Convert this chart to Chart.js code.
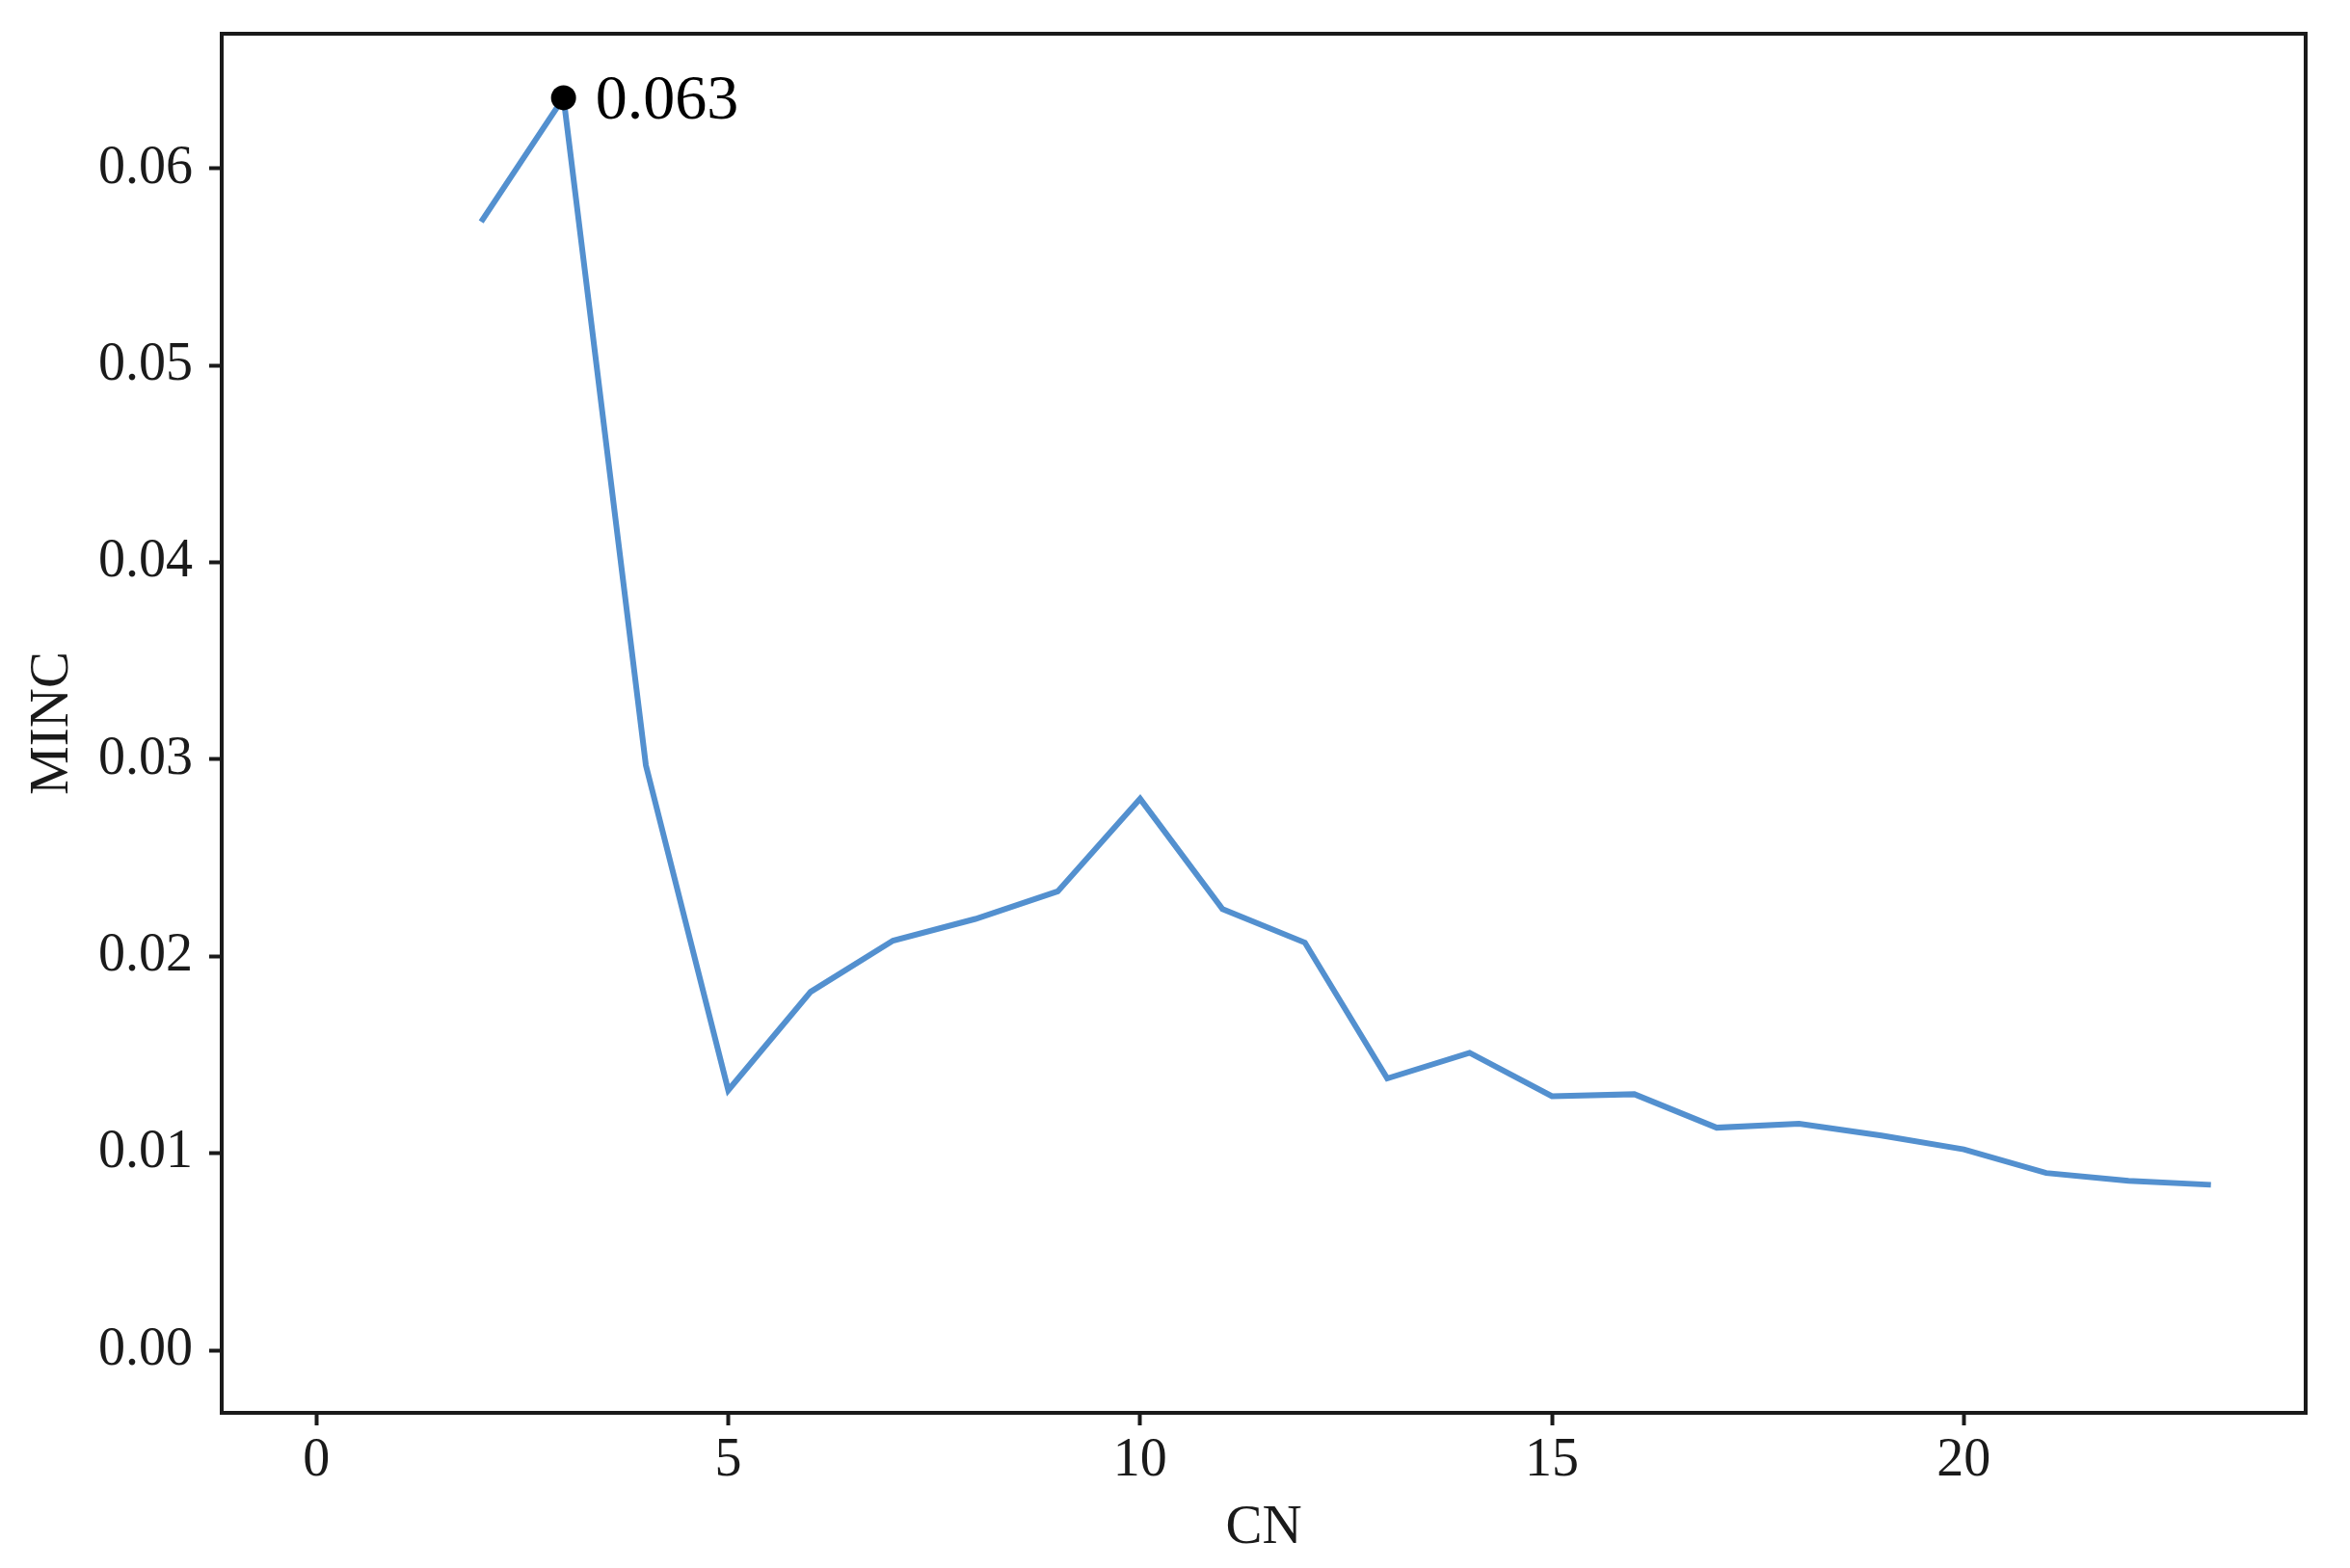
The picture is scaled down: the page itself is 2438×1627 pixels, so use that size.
<!DOCTYPE html>
<html>
<head>
<meta charset="utf-8">
<title>MINC vs CN</title>
<script src="https://cdn.jsdelivr.net/npm/chart.js@4.4.1/dist/chart.umd.min.js"></script>
<style>
    body { margin: 0; background: #fff; }
    #wrap { width: 2438px; height: 1627px; position: relative; }
</style>
</head>
<body>
<div id="wrap"><canvas id="mincChart"></canvas></div>
<script>
// values
const cn = [2, 3, 4, 5, 6, 7, 8, 9, 10, 11, 12, 13, 14, 15, 16, 17, 18, 19, 20, 21, 22, 23];
const minc = [0.0573, 0.0636, 0.0297, 0.0132, 0.0182, 0.0208, 0.0219, 0.0233, 0.0280, 0.0224, 0.0207, 0.0138,
    0.0151, 0.0129, 0.0130, 0.0113, 0.0115, 0.0109, 0.0102, 0.0090, 0.0086, 0.0084];
const xTicks = [0, 5, 10, 15, 20];
const yTicks = [0.00, 0.01, 0.02, 0.03, 0.04, 0.05, 0.06];

const fontFamily = '"Liberation Serif", "Times New Roman", serif';
const ink = "#1a1a1a";

// peak point gets a dot and a label
const peakIdx = minc.indexOf(Math.max(...minc));
const peakLabel = (Math.floor(minc[peakIdx] * 1000) / 1000).toFixed(3);

const framePlugin = {
    id: "frame",
    afterDraw(chart) {
        const { ctx, chartArea: a } = chart;
        ctx.save();
        ctx.strokeStyle = ink;
        ctx.lineWidth = 4;
        ctx.strokeRect(a.left, a.top, a.right - a.left, a.bottom - a.top);
        ctx.restore();
    }
};

const peakTextPlugin = {
    id: "peakText",
    afterDatasetsDraw(chart) {
        const pt = chart.getDatasetMeta(0).data[0];
        if (!pt) return;
        const ctx = chart.ctx;
        ctx.save();
        ctx.font = "66px " + fontFamily;
        ctx.fillStyle = "#000";
        ctx.textAlign = "left";
        ctx.textBaseline = "alphabetic";
        ctx.fillText(peakLabel, pt.x + 33, pt.y + 22);
        ctx.restore();
    }
};

const ctx = document.getElementById("mincChart");

new Chart(ctx, {
    type: "line",
    data: {
        datasets: [
            {
                label: "peak",
                data: [{ x: cn[peakIdx], y: minc[peakIdx] }],
                showLine: false,
                pointRadius: 13,
                pointBackgroundColor: "#000",
                pointBorderWidth: 0,
                order: 0
            },
            {
                label: "MINC",
                data: cn.map((c, i) => ({ x: c, y: minc[i] })),
                borderColor: "#5390cf",
                borderWidth: 6,
                pointRadius: 0,
                fill: false,
                tension: 0,
                order: 1
            }
        ]
    },
    options: {
        responsive: true,
        maintainAspectRatio: false,
        animation: false,
        layout: {
            padding: { left: 21, top: 35, right: 46, bottom: 7 }
        },
        plugins: {
            legend: { display: false },
            tooltip: { enabled: false }
        },
        scales: {
            x: {
                type: "linear",
                min: -1.15,
                max: 24.15,
                afterBuildTicks: (s) => { s.ticks = xTicks.map(v => ({ value: v })); },
                afterFit: (s) => { s.height = 154; s.paddingLeft = 0; s.paddingRight = 0; },
                grid: { drawOnChartArea: false, tickLength: 13, tickWidth: 4, tickColor: ink },
                border: { display: false },
                ticks: {
                    padding: 4,
                    color: ink,
                    font: { family: fontFamily, size: 56 },
                    callback: (v) => String(v)
                },
                title: {
                    display: true,
                    text: "CN",
                    color: ink,
                    padding: 0,
                    font: { family: fontFamily, size: 57 }
                }
            },
            y: {
                type: "linear",
                min: -0.00318,
                max: 0.06685,
                afterBuildTicks: (s) => { s.ticks = yTicks.map(v => ({ value: v })); },
                afterFit: (s) => { s.width = 209; s.paddingTop = 0; s.paddingBottom = 0; },
                grid: { drawOnChartArea: false, tickLength: 13, tickWidth: 4, tickColor: ink },
                border: { display: false },
                ticks: {
                    padding: 17,
                    color: ink,
                    font: { family: fontFamily, size: 56 },
                    callback: (v) => Number(v).toFixed(2)
                },
                title: {
                    display: true,
                    text: "MINC",
                    color: ink,
                    padding: 0,
                    font: { family: fontFamily, size: 57 }
                }
            }
        }
    },
    plugins: [framePlugin, peakTextPlugin]
});
</script>
</body>
</html>
